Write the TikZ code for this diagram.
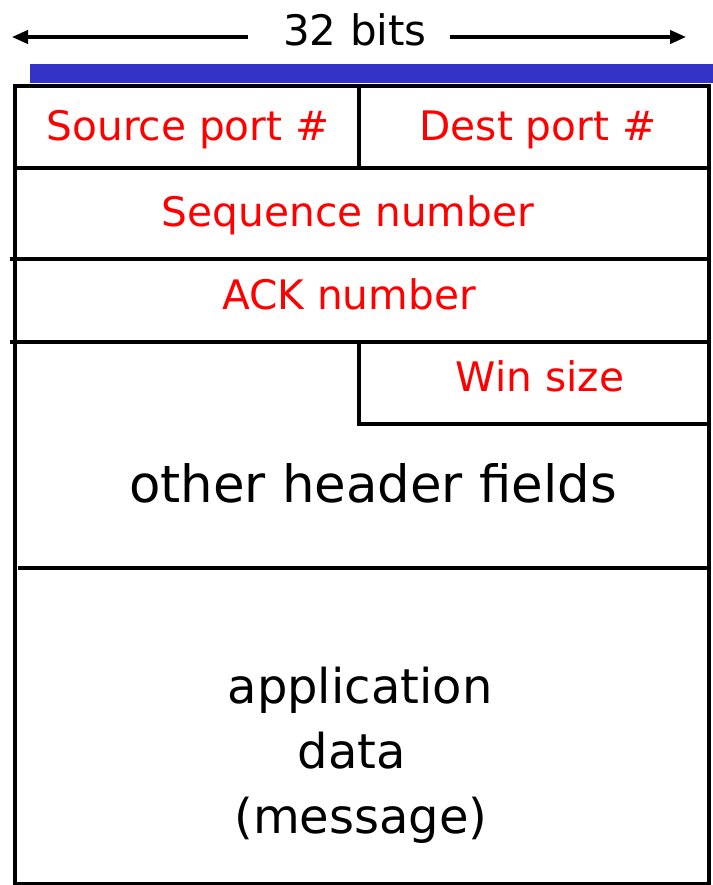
\documentclass[tikz,border=0pt]{standalone}
\usepackage{fontspec}
\setmainfont{DejaVu Sans}
\usetikzlibrary{arrows.meta}
\definecolor{barblue}{RGB}{51,51,200}
\tikzset{
  field/.style={text=red, font=\fontsize{30.5}{36}\selectfont, anchor=base, inner sep=0pt},
  bigtext/.style={text=black, font=\fontsize{36}{43}\selectfont, anchor=base, inner sep=0pt},
  rule/.style={line width=2.6pt, line cap=rect},
  widtharrow/.style={line width=2.4pt, -{Triangle[length=12pt,width=10pt]}}
}
\begin{document}
\begin{tikzpicture}[x=0.75pt, y=-0.75pt]
\useasboundingbox (0,0) rectangle (713,885);
% width label with arrows
\node[text=black, font=\fontsize{31.5}{37}\selectfont, anchor=base, inner sep=0pt] (width) at (355,45) {32 bits};
\coordinate (lefttip) at (12,37);
\coordinate (righttip) at (686,37);
\draw[widtharrow] (248,37) -- (lefttip);
\draw[widtharrow] (450,37) -- (righttip);
% blue top bar
\fill[barblue] (30,64) rectangle (713,83);
% segment frame
\draw[rule] (15,86) -- (709,86);
\draw[rule] (15,86) -- (15,885);
\draw[rule] (709,86) -- (709,885);
\draw[rule] (15,884) -- (709,884);
\draw[rule] (359,86) -- (359,167);
\draw[rule] (15,168) -- (709,168);
\draw[rule] (12,259) -- (709,259);
\draw[rule] (12,342) -- (709,342);
\draw[rule] (359,342) -- (359,424) -- (706,424);
\draw[rule] (20,568) -- (709,568);
% header fields
\node[field] (src) at (188,140) {Source port \#};
\node[field] (dst) at (538,140) {Dest port \#};
\node[field] (seq) at (348,226) {Sequence number};
\node[field] (ack) at (349,309) {ACK number};
\node[field] (win) at (540,391) {Win size};
\node[bigtext, font=\fontsize{38.5}{46}\selectfont] (other) at (373,502) {other header fields};
% payload
\node[bigtext] (app) at (360,703) {application};
\node[bigtext] (data) at (352,768) {data};
\node[bigtext] (msg) at (361,833) {(message)};
\end{tikzpicture}
\end{document}
